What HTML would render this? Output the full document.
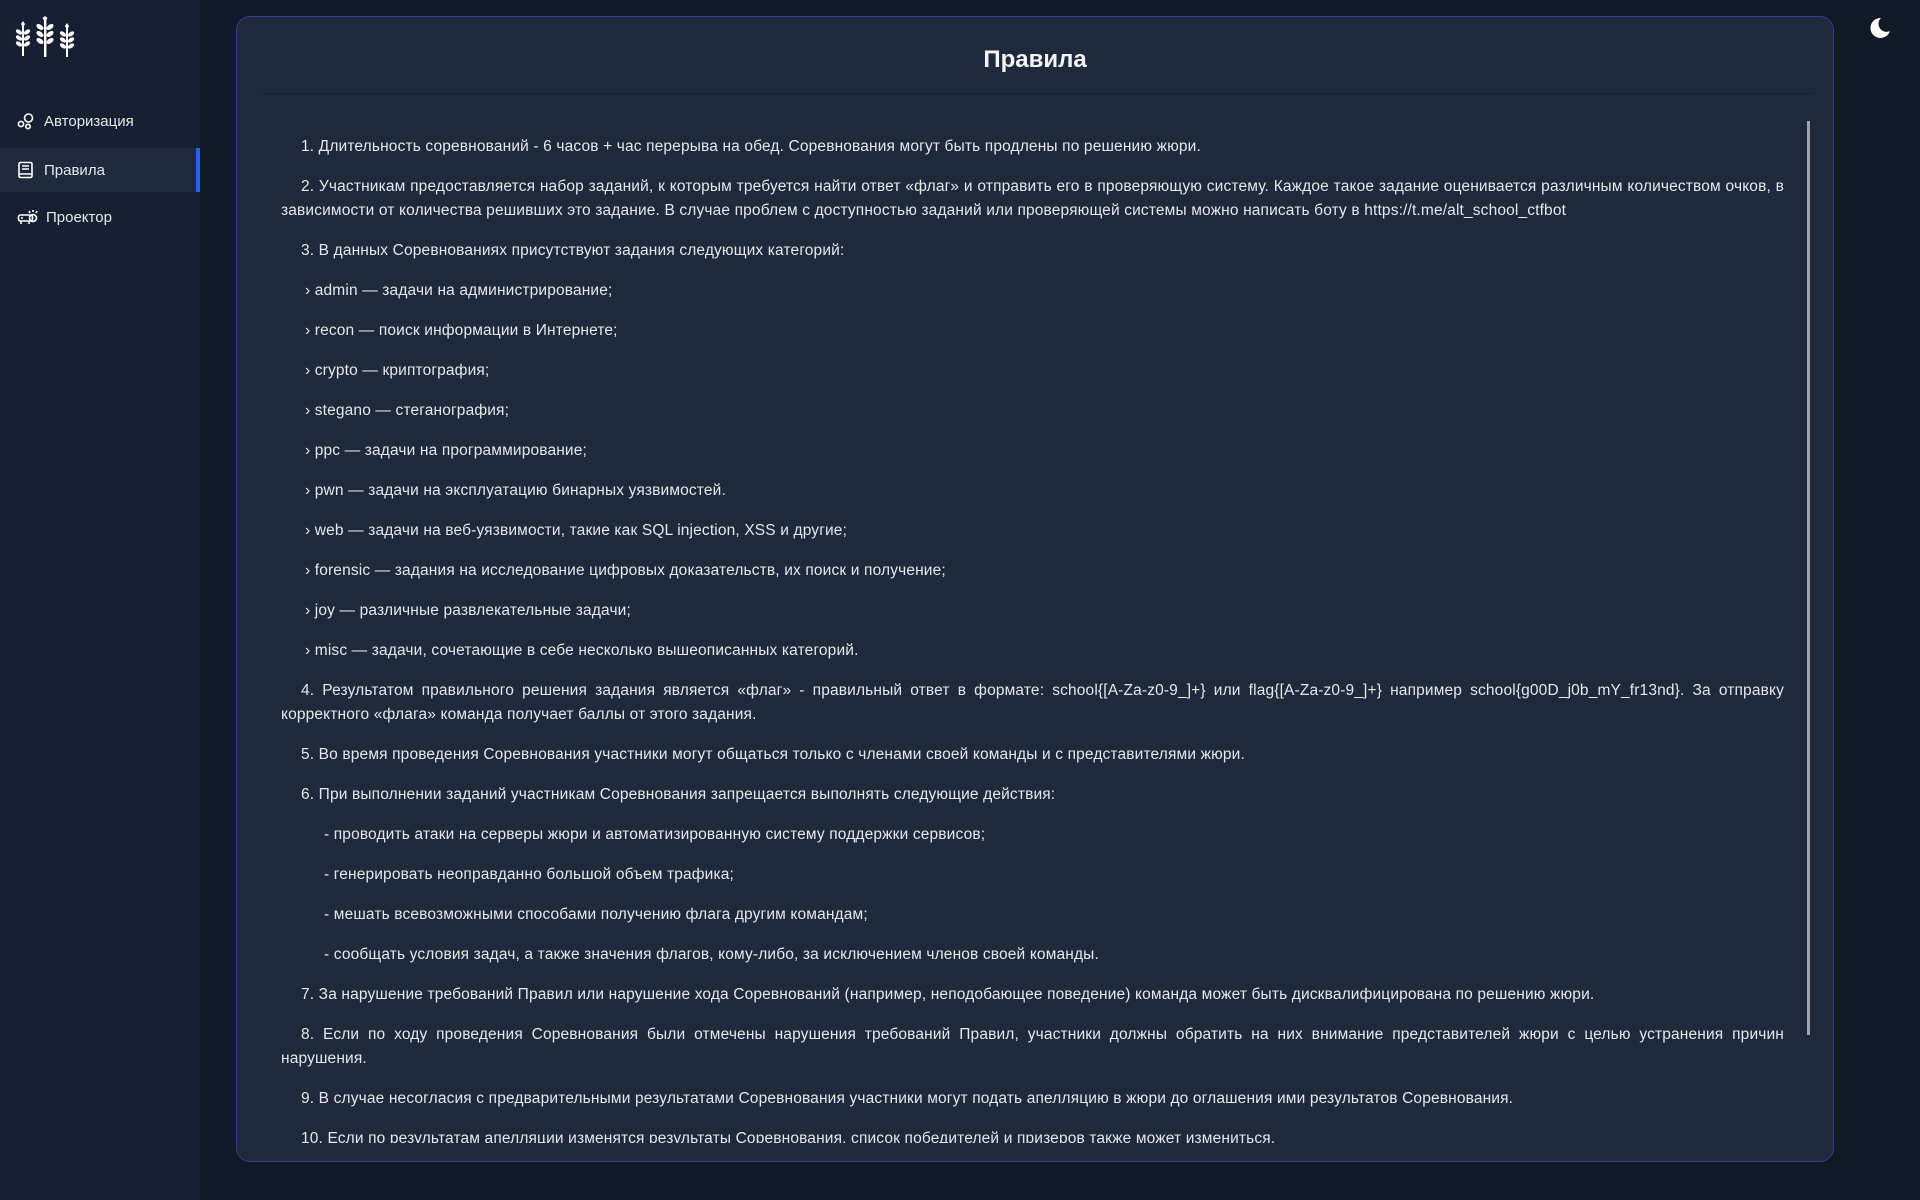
<!DOCTYPE html>
<html><head><meta charset="utf-8"><style>
*{margin:0;padding:0;box-sizing:border-box}
html,body{width:1920px;height:1200px;overflow:hidden;background:#111827;font-family:"Liberation Sans","DejaVu Sans",sans-serif;color:#e5e7eb}
.side{position:absolute;left:0;top:0;width:200px;height:1200px;background:#172033}
.nav{position:absolute;left:0;width:200px;height:44px;display:flex;align-items:center;font-size:15px;color:#e5e7eb}
.nav svg{position:absolute;left:17px}
.nav span{position:absolute;left:44px}
.active{background:#1e293b}
.active::after{content:"";position:absolute;right:0;top:0;width:4px;height:44px;background:#2563eb}
.card{position:absolute;left:236px;top:16px;width:1598px;height:1146px;background:#1e293b;border:1px solid #3a3a8c;border-radius:14px;overflow:hidden}
h1{position:absolute;left:0;right:0;top:29px;text-align:center;font-size:24px;font-weight:bold;color:#f3f4f6}
.hr{position:absolute;left:25px;top:76px;width:1550px;height:1px;background:#172033}
.sb{position:absolute;left:1570px;top:104px;width:3px;height:914px;background:#9ca3af}
.content{position:absolute;left:44px;top:118px;width:1503px;height:1008px;overflow:hidden;font-size:15.5px;letter-spacing:.15px}
.content p{line-height:24px;margin-bottom:16px;white-space:nowrap}
.content p.w{white-space:normal;text-align:justify}
.j{display:block;text-align:justify;text-align-last:justify;text-indent:20px}
.i{padding-left:20px}.b{padding-left:24px}.d{padding-left:43px}
</style></head><body>
<div class="side">
 <svg style="position:absolute;left:15px;top:16px" width="60" height="42" viewBox="0 0 60 42" fill="#fff">
  <g><rect x="7" y="10" width="2" height="30"/><path d="M8 12l-2-4 2-3 2 3z"/><ellipse cx="4" cy="16" rx="3.5" ry="2" transform="rotate(35 4 16)"/><ellipse cx="12" cy="16" rx="3.5" ry="2" transform="rotate(-35 12 16)"/><ellipse cx="4" cy="22" rx="3.5" ry="2" transform="rotate(35 4 22)"/><ellipse cx="12" cy="22" rx="3.5" ry="2" transform="rotate(-35 12 22)"/><ellipse cx="4" cy="28" rx="3.5" ry="2" transform="rotate(35 4 28)"/><ellipse cx="12" cy="28" rx="3.5" ry="2" transform="rotate(-35 12 28)"/></g>
  <g><rect x="29" y="4" width="2.4" height="37"/><path d="M30 6l-2.5-4 2.5-2 2.5 2z"/><ellipse cx="25" cy="11" rx="4" ry="2.3" transform="rotate(35 25 11)"/><ellipse cx="35" cy="11" rx="4" ry="2.3" transform="rotate(-35 35 11)"/><ellipse cx="25" cy="18" rx="4" ry="2.3" transform="rotate(35 25 18)"/><ellipse cx="35" cy="18" rx="4" ry="2.3" transform="rotate(-35 35 18)"/><ellipse cx="25" cy="25" rx="4" ry="2.3" transform="rotate(35 25 25)"/><ellipse cx="35" cy="25" rx="4" ry="2.3" transform="rotate(-35 35 25)"/></g>
  <g><rect x="51" y="12" width="2" height="29"/><path d="M52 14l-2-4 2-3 2 3z"/><ellipse cx="48" cy="18" rx="3.5" ry="2" transform="rotate(35 48 18)"/><ellipse cx="56" cy="18" rx="3.5" ry="2" transform="rotate(-35 56 18)"/><ellipse cx="48" cy="24" rx="3.5" ry="2" transform="rotate(35 48 24)"/><ellipse cx="56" cy="24" rx="3.5" ry="2" transform="rotate(-35 56 24)"/><ellipse cx="48" cy="30" rx="3.5" ry="2" transform="rotate(35 48 30)"/><ellipse cx="56" cy="30" rx="3.5" ry="2" transform="rotate(-35 56 30)"/></g>
 </svg>
 <div class="nav" style="top:99px"><svg width="18" height="18" viewBox="0 0 18 18" fill="none" stroke="#fff" stroke-width="1.6"><circle cx="4" cy="12" r="2.6"/><circle cx="11.5" cy="6" r="4"/><circle cx="11" cy="14.5" r="2.2"/></svg><span>Авторизация</span></div>
 <div class="nav active" style="top:148px"><svg width="18" height="18" viewBox="0 0 18 18" fill="none" stroke="#fff" stroke-width="1.6"><rect x="2" y="1.5" width="13" height="15" rx="1.5"/><path d="M5 5h7M5 8h7M2 13h13"/></svg><span>Правила</span></div>
 <div class="nav" style="top:195px"><svg width="22" height="18" viewBox="0 0 22 18" fill="none" stroke="#fff" stroke-width="1.6"><rect x="1.5" y="7" width="14" height="6" rx="2"/><circle cx="16" cy="10" r="3.5"/><path d="M4 13v3M12 13v3M16 2v2M12 3l1 2M20 3l-1 2M4 10h2"/></svg><span style="left:46px">Проектор</span></div>
</div>
<svg style="position:absolute;left:1869px;top:17px" width="22" height="22" viewBox="0 0 22 22"><path d="M12 1a10 10 0 1 0 9 13A8 8 0 0 1 12 1z" fill="#fff"/></svg>
<div class="card">
 <h1>Правила</h1>
 <div class="hr"></div>
 <div class="sb"></div>
 <div class="content">
  <p class="i">1. Длительность соревнований - 6 часов + час перерыва на обед. Соревнования могут быть продлены по решению жюри.</p>
  <p class="w"><span class="j">2. Участникам предоставляется набор заданий, к которым требуется найти ответ «флаг» и отправить его в проверяющую систему. Каждое такое задание оценивается различным количеством очков, в</span>зависимости от количества решивших это задание. В случае проблем с доступностью заданий или проверяющей системы можно написать боту в https://t.me/alt_school_ctfbot</p>
  <p class="i">3. В данных Соревнованиях присутствуют задания следующих категорий:</p>
  <p class="b">› admin — задачи на администрирование;</p>
  <p class="b">› recon — поиск информации в Интернете;</p>
  <p class="b">› crypto — криптография;</p>
  <p class="b">› stegano — стеганография;</p>
  <p class="b">› ppc — задачи на программирование;</p>
  <p class="b">› pwn — задачи на эксплуатацию бинарных уязвимостей.</p>
  <p class="b">› web — задачи на веб-уязвимости, такие как SQL injection, XSS и другие;</p>
  <p class="b">› forensic — задания на исследование цифровых доказательств, их поиск и получение;</p>
  <p class="b">› joy — различные развлекательные задачи;</p>
  <p class="b">› misc — задачи, сочетающие в себе несколько вышеописанных категорий.</p>
  <p class="w"><span class="j">4. Результатом правильного решения задания является «флаг» - правильный ответ в формате: school{[A-Za-z0-9_]+} или flag{[A-Za-z0-9_]+} например school{g00D_j0b_mY_fr13nd}. За отправку</span>корректного «флага» команда получает баллы от этого задания.</p>
  <p class="i">5. Во время проведения Соревнования участники могут общаться только с членами своей команды и с представителями жюри.</p>
  <p class="i">6. При выполнении заданий участникам Соревнования запрещается выполнять следующие действия:</p>
  <p class="d">- проводить атаки на серверы жюри и автоматизированную систему поддержки сервисов;</p>
  <p class="d">- генерировать неоправданно большой объем трафика;</p>
  <p class="d">- мешать всевозможными способами получению флага другим командам;</p>
  <p class="d">- сообщать условия задач, а также значения флагов, кому-либо, за исключением членов своей команды.</p>
  <p class="i">7. За нарушение требований Правил или нарушение хода Соревнований (например, неподобающее поведение) команда может быть дисквалифицирована по решению жюри.</p>
  <p class="w"><span class="j">8. Если по ходу проведения Соревнования были отмечены нарушения требований Правил, участники должны обратить на них внимание представителей жюри с целью устранения причин</span>нарушения.</p>
  <p class="i">9. В случае несогласия с предварительными результатами Соревнования участники могут подать апелляцию в жюри до оглашения ими результатов Соревнования.</p>
  <p class="i">10. Если по результатам апелляции изменятся результаты Соревнования, список победителей и призеров также может измениться.</p>
 </div>
</div>
</body></html>
